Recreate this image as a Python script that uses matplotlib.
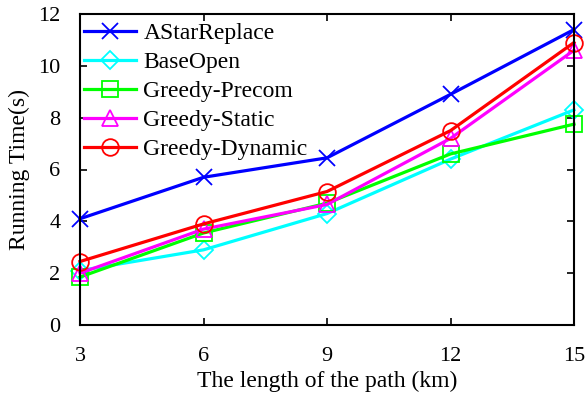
import matplotlib
matplotlib.use("Agg")
import matplotlib.pyplot as plt

path_len = [3, 6, 9, 12, 15]
astar_replace = [4.1, 5.7, 6.45, 8.9, 11.4]
base_open = [2.1, 2.9, 4.3, 6.4, 8.3]
greedy_precom = [1.85, 3.55, 4.7, 6.6, 7.75]
greedy_static = [2.0, 3.7, 4.65, 7.2, 10.6]
greedy_dynamic = [2.45, 3.9, 5.15, 7.5, 10.9]

plt.rcParams["font.family"] = ["Liberation Serif", "DejaVu Serif"]

fig = plt.figure(figsize=(5.85, 3.96), dpi=100)
ax = fig.add_axes([80 / 585, 1 - 325 / 396, 494 / 585, 311 / 396])

series = [
    ("AStarReplace", astar_replace, "#0000ff", "x"),
    ("BaseOpen", base_open, "#00ffff", "D"),
    ("Greedy-Precom", greedy_precom, "#00ff00", "s"),
    ("Greedy-Static", greedy_static, "#ff00ff", "^"),
    ("Greedy-Dynamic", greedy_dynamic, "#ff0000", "o"),
]
for name, vals, color, mk in series:
    ms = 9 if mk == "D" else 12
    ax.plot(path_len, vals, color=color, lw=2.3, marker=mk, ms=ms,
            mfc="none", mec=color, mew=1.3, label=name, clip_on=False)

ax.set_xlim(3, 15)
ax.set_ylim(0, 12)
ax.set_xticks(path_len)
ax.set_yticks(range(0, 13, 2))
ax.tick_params(direction="in", top=True, right=True, labelsize=16, length=5, width=1.2)
ax.tick_params(axis="y", pad=14)
ax.tick_params(axis="x", pad=16)
for s in ax.spines.values():
    s.set_linewidth(1.5)
ax.set_xlabel("The length of the path (km)", fontsize=17, labelpad=3)
ax.set_ylabel("Running Time(s)", fontsize=17, labelpad=6)
ax.legend(loc="upper left", bbox_to_anchor=(-0.008, 1.0), frameon=False,
          fontsize=17, handlelength=2.2, handletextpad=0.3, labelspacing=0.32,
          borderaxespad=0.25, borderpad=0.1)

fig.savefig("out.png", dpi=100)
